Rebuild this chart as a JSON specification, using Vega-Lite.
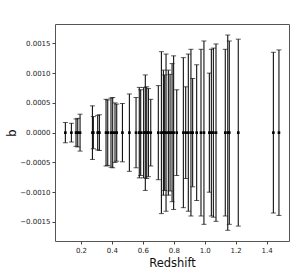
{
  "$schema": "https://vega.github.io/schema/vega-lite/v6.json",
  "autosize": "none",
  "width": 234,
  "height": 217,
  "padding": {"left": 55, "top": 24, "right": 16, "bottom": 36},
  "background": "white",
  "config": {
    "view": {"stroke": "#555", "strokeWidth": 1},
    "axis": {
      "labelFont": "DejaVu Sans", "titleFont": "DejaVu Sans",
      "labelFontSize": 7, "titleFontSize": 11.5, "titleFontWeight": "normal",
      "labelColor": "#222", "titleColor": "#111",
      "tickColor": "#444", "tickSize": 3, "domain": false, "grid": false
    }
  },
  "data": {"values": [
    {"z": 0.099, "b": 0, "err": 0.00017},
    {"z": 0.138, "b": 0, "err": 0.000157},
    {"z": 0.168, "b": 0, "err": 0.00023},
    {"z": 0.179, "b": 0, "err": 0.00024},
    {"z": 0.194, "b": 0, "err": 0.00031},
    {"z": 0.274, "b": 0, "err": 0.00045},
    {"z": 0.280, "b": 0, "err": 0.00027},
    {"z": 0.308, "b": 0, "err": 0.00029},
    {"z": 0.319, "b": 0, "err": 0.0003},
    {"z": 0.362, "b": 0, "err": 0.00056},
    {"z": 0.373, "b": 0, "err": 0.00055},
    {"z": 0.394, "b": 0, "err": 0.00058},
    {"z": 0.405, "b": 0, "err": 0.00059},
    {"z": 0.420, "b": 0, "err": 0.0005},
    {"z": 0.431, "b": 0, "err": 0.00048},
    {"z": 0.468, "b": 0, "err": 0.00049},
    {"z": 0.513, "b": 0, "err": 0.00065},
    {"z": 0.556, "b": 0, "err": 0.00059},
    {"z": 0.577, "b": 0, "err": 0.00076},
    {"z": 0.586, "b": 0, "err": 0.00072},
    {"z": 0.605, "b": 0, "err": 0.00076},
    {"z": 0.616, "b": 0, "err": 0.00097},
    {"z": 0.625, "b": 0, "err": 0.00077},
    {"z": 0.636, "b": 0, "err": 0.00074},
    {"z": 0.651, "b": 0, "err": 0.00056},
    {"z": 0.700, "b": 0, "err": 0.00079},
    {"z": 0.720, "b": 0, "err": 0.00136},
    {"z": 0.733, "b": 0, "err": 0.00105},
    {"z": 0.741, "b": 0, "err": 0.00097},
    {"z": 0.750, "b": 0, "err": 0.00132},
    {"z": 0.765, "b": 0, "err": 0.00105},
    {"z": 0.776, "b": 0, "err": 0.00098},
    {"z": 0.789, "b": 0, "err": 0.00116},
    {"z": 0.799, "b": 0, "err": 0.00129},
    {"z": 0.819, "b": 0, "err": 0.00072},
    {"z": 0.862, "b": 0, "err": 0.00126},
    {"z": 0.877, "b": 0, "err": 0.00077},
    {"z": 0.894, "b": 0, "err": 0.00132},
    {"z": 0.911, "b": 0, "err": 0.0014},
    {"z": 0.922, "b": 0, "err": 0.00091},
    {"z": 0.948, "b": 0, "err": 0.00114},
    {"z": 0.976, "b": 0, "err": 0.0014},
    {"z": 0.995, "b": 0, "err": 0.00154},
    {"z": 1.030, "b": 0, "err": 0.001},
    {"z": 1.043, "b": 0, "err": 0.0014},
    {"z": 1.056, "b": 0, "err": 0.00142},
    {"z": 1.073, "b": 0, "err": 0.00149},
    {"z": 1.133, "b": 0, "err": 0.0014},
    {"z": 1.149, "b": 0, "err": 0.00164},
    {"z": 1.159, "b": 0, "err": 0.00154},
    {"z": 1.217, "b": 0, "err": 0.00157},
    {"z": 1.444, "b": 0, "err": 0.00135},
    {"z": 1.480, "b": 0, "err": 0.00139}
  ]},
  "encoding": {
    "x": {
      "field": "z", "type": "quantitative", "title": "Redshift",
      "scale": {"domain": [0.032, 1.545], "nice": false, "zero": false},
      "axis": {"values": [0.2, 0.4, 0.6, 0.8, 1.0, 1.2, 1.4], "format": ".1f", "titlePadding": 4}
    },
    "y": {
      "field": "b", "type": "quantitative", "title": "b",
      "scale": {"domain": [-0.00182, 0.001825], "nice": false},
      "axis": {"values": [-0.0015, -0.001, -0.0005, 0, 0.0005, 0.001, 0.0015], "format": ".4f", "titlePadding": 2, "labelOverlap": false, "labelBound": false}
    }
  },
  "layer": [
    {
      "mark": {"type": "errorbar", "ticks": {"size": 5, "color": "#111", "strokeWidth": 1}, "rule": {"color": "#111", "strokeWidth": 1.1}},
      "encoding": {
        "yError": {"field": "err"}
      }
    },
    {
      "mark": {"type": "square", "filled": true, "color": "#000", "size": 7, "opacity": 1}
    }
  ]
}
